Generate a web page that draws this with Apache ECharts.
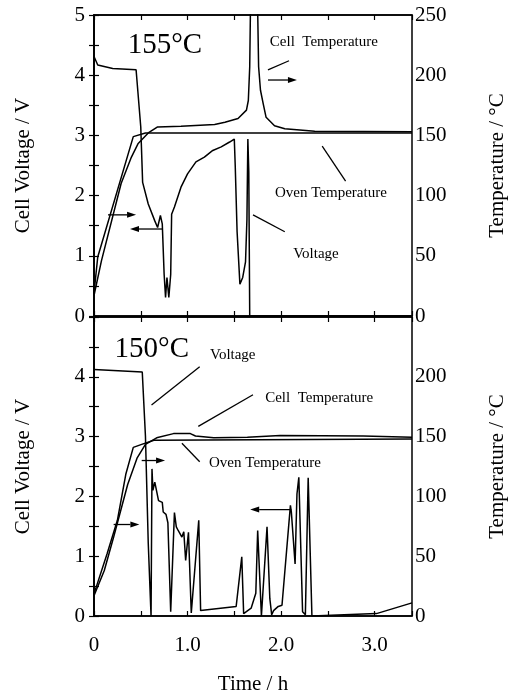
<!DOCTYPE html>
<html>
<head>
<meta charset="utf-8">
<script src="https://cdn.jsdelivr.net/npm/echarts@6/dist/echarts.min.js"></script>
<style>html,body{margin:0;padding:0;background:#fff;}#c{width:508px;height:695px;}</style>
</head>
<body>
<div id="c"></div>
<script>
// ---------- DATA (time in h, voltage in V, temperature in °C) ----------
const topVoltT = [0,0.04,0.20,0.45,0.47,0.50,0.52,0.58,0.65,0.68,0.71,0.73,0.75,0.765,0.78,0.80,0.82,0.83,0.86,0.93,1.00,1.09,1.18,1.27,1.36,1.45,1.50,1.51,1.53,1.56,1.59,1.62,1.635,1.645,1.655,1.665,3.40];
const topVoltV = [4.31,4.17,4.11,4.09,4.07,3.14,2.22,1.86,1.58,1.47,1.67,1.53,0.69,0.31,0.64,0.31,0.69,1.69,1.81,2.14,2.36,2.56,2.64,2.75,2.81,2.89,2.94,2.50,1.40,0.53,0.64,0.90,1.60,2.94,2.40,0,0];
const topCellT = [0,0.08,0.29,0.40,0.47,0.58,0.68,0.93,1.29,1.40,1.54,1.63,1.65,1.665,1.68,1.74,1.76,1.78,1.81,1.84,1.93,2.04,2.36,3.40];
const topCellC = [17,46,110,132,143,152,157,157.5,159,161,164,171,179,207,300,300,207,187.5,176,165,158,155.5,153.5,153];
const topOvenT = [0,0.04,0.42,0.55,3.40];
const topOvenC = [19,49,149,152,152];

const botVoltT = [0,0.516,0.55,0.58,0.61,0.62,0.63,0.65,0.69,0.73,0.74,0.77,0.79,0.82,0.86,0.88,0.90,0.92,0.94,0.96,0.98,1.01,1.04,1.12,1.14,1.52,1.58,1.60,1.68,1.73,1.75,1.79,1.80,1.85,1.88,1.90,1.92,1.97,2.01,2.10,2.11,2.15,2.17,2.19,2.23,2.26,2.29,2.33,3.02,3.40];
const botVoltV = [4.12,4.08,3.01,1.22,0,2.46,2.10,2.24,1.93,1.90,1.74,1.70,1.56,0.07,1.73,1.49,1.43,1.46,1.32,1.41,0.93,1.40,0.05,1.60,0.09,0.16,0.99,0.04,0.13,0.38,1.43,0,0,1.49,0.29,0.02,0.09,0.16,0.18,1.85,1.74,0.87,2.04,2.32,0.07,0.02,2.31,0,0.04,0.22];
const botCellT = [0,0.11,0.21,0.36,0.46,0.55,0.67,0.85,1.03,1.085,1.28,1.64,1.99,2.88,3.40];
const botCellC = [17,38,66,110,132,143.5,149,152.5,152.5,150.5,149,149.5,151,150.5,149.5];
const botOvenT = [0,0.14,0.25,0.34,0.42,0.51,0.64,3.40];
const botOvenC = [18.5,52,80,118.5,141,143.5,147,148];

const xTickLabels = {0:'0',1:'1.0',2:'2.0',3:'3.0'};
const leftName = 'Cell Voltage / V';
const rightName = 'Temperature / °C';
const xName = 'Time / h';

// annotation anchors in data coordinates (time, voltage) of each panel
const texts = [
  {g:0, t:'155°C', at:[0.36,4.49], big:true},
  {g:0, t:'Cell  Temperature', at:[1.88,4.55]},
  {g:0, t:'Oven Temperature', at:[1.935,2.04]},
  {g:0, t:'Voltage', at:[2.13,1.03]},
  {g:1, t:'150°C', at:[0.22,4.46], big:true},
  {g:1, t:'Voltage', at:[1.24,4.36]},
  {g:1, t:'Cell  Temperature', at:[1.83,3.65]},
  {g:1, t:'Oven Temperature', at:[1.23,2.56]}
];
const leaders = [
  {g:0, a:[1.86,4.09], b:[2.085,4.24]},
  {g:0, a:[2.44,2.82], b:[2.69,2.24]},
  {g:0, a:[1.70,1.68], b:[2.04,1.40]},
  {g:1, a:[1.13,4.17], b:[0.615,3.53]},
  {g:1, a:[1.70,3.70], b:[1.115,3.17]},
  {g:1, a:[1.13,2.58], b:[0.94,2.89]}
];
const arrows = [
  {g:0, a:[1.86,3.92], b:[2.17,3.92]},
  {g:0, a:[0.15,1.68], b:[0.45,1.68]},
  {g:0, a:[0.73,1.445], b:[0.385,1.445]},
  {g:1, a:[0.51,2.60], b:[0.76,2.60]},
  {g:1, a:[0.21,1.53], b:[0.485,1.53]},
  {g:1, a:[2.11,1.78], b:[1.67,1.78]}
];

// ---------- CHART ----------
const FONT = '"Liberation Serif", "DejaVu Serif", serif';
const zip = (a,b) => a.map((v,i)=>[v,b[i]]);
const chart = echarts.init(document.getElementById('c'), null, {renderer:'canvas'});

function xAx(grid, pos, labels){
  return {
    type:'value', gridIndex:grid, position:pos, min:0, max:3.4, interval:0.5,
    axisLine:{show:true, onZero:false, lineStyle:{color:'#000', width:1.5}},
    axisTick:{show:true, inside:true, length:5, lineStyle:{color:'#000', width:1.2}},
    splitLine:{show:false},
    axisLabel:{show:labels, color:'#000', fontFamily:FONT, fontSize:21, margin:19,
      formatter:v => (Math.abs(v-Math.round(v))<1e-6 && xTickLabels[Math.round(v)]!==undefined) ? xTickLabels[Math.round(v)] : ''},
    name: labels ? xName : '', nameLocation:'middle', nameGap:58,
    nameTextStyle:{color:'#000', fontFamily:FONT, fontSize:21}
  };
}
function yLeft(grid, hideTop){
  return {
    type:'value', gridIndex:grid, position:'left', min:0, max:5, interval:0.5,
    axisLine:{show:true, lineStyle:{color:'#000', width:1.5}},
    axisTick:{show:true, inside:true, length:5, lineStyle:{color:'#000', width:1.2}},
    splitLine:{show:false},
    axisLabel:{color:'#000', fontFamily:FONT, fontSize:21, margin:9,
      formatter:v => (Math.abs(v-Math.round(v))<1e-6 && !(hideTop && v>4.5)) ? String(Math.round(v)) : ''},
    name:leftName, nameLocation:'middle', nameGap:60, nameRotate:90,
    nameTextStyle:{color:'#000', fontFamily:FONT, fontSize:21}
  };
}
function yRight(grid, hideTop){
  return {
    type:'value', gridIndex:grid, position:'right', min:0, max:250, interval:25,
    axisLine:{show:true, lineStyle:{color:'#000', width:1.5}},
    axisTick:{show:true, inside:true, length:5, lineStyle:{color:'#000', width:1.2}},
    splitLine:{show:false},
    axisLabel:{color:'#000', fontFamily:FONT, fontSize:21, margin:3,
      formatter:v => (v%50===0 && !(hideTop && v===250)) ? String(v) : ''},
    name:rightName, nameLocation:'middle', nameGap:75, nameRotate:90,
    nameTextStyle:{color:'#000', fontFamily:FONT, fontSize:21}
  };
}
function ser(name, xi, yi, data){
  return {name, type:'line', xAxisIndex:xi, yAxisIndex:yi, data, showSymbol:false, symbol:'none',
    clip:true, lineStyle:{color:'#000', width:1.5}, itemStyle:{color:'#000'}, animation:false, z:3};
}

chart.setOption({
  backgroundColor:'#fff',
  animation:false,
  grid:[
    {left:94, top:15, width:318, height:301, show:true, borderColor:'#000', borderWidth:1.5, backgroundColor:'transparent', outerBoundsMode:'none', containLabel:false},
    {left:94, top:317, width:318, height:299, show:true, borderColor:'#000', borderWidth:1.5, backgroundColor:'transparent', outerBoundsMode:'none', containLabel:false}
  ],
  xAxis:[xAx(0,'bottom',false), xAx(0,'top',false), xAx(1,'bottom',true), xAx(1,'top',false)],
  yAxis:[yLeft(0,false), yRight(0,false), yLeft(1,true), yRight(1,true)],
  series:[
    ser('Voltage 155', 0, 0, zip(topVoltT, topVoltV)),
    ser('Cell Temperature 155', 0, 1, zip(topCellT, topCellC)),
    ser('Oven Temperature 155', 0, 1, zip(topOvenT, topOvenC)),
    ser('Voltage 150', 2, 2, zip(botVoltT, botVoltV)),
    ser('Cell Temperature 150', 2, 3, zip(botCellT, botCellC)),
    ser('Oven Temperature 150', 2, 3, zip(botOvenT, botOvenC))
  ]
});

function P(g, p){ return chart.convertToPixel({xAxisIndex:g*2, yAxisIndex:g*2}, p); }
const gfx = [];
texts.forEach(o => {
  const p = P(o.g, o.at);
  gfx.push({type:'text', z:10, style:{text:o.t, x:p[0], y:p[1], fill:'#000',
    font:(o.big ? '29px ' : '15px ') + FONT, align:'left', verticalAlign:'middle'}});
});
leaders.forEach(o => {
  const a = P(o.g, o.a), b = P(o.g, o.b);
  gfx.push({type:'line', z:10, shape:{x1:a[0], y1:a[1], x2:b[0], y2:b[1]}, style:{stroke:'#000', lineWidth:1.3}});
});
arrows.forEach(o => {
  const a = P(o.g, o.a), b = P(o.g, o.b);
  const dx = b[0]-a[0], dy = b[1]-a[1], L = Math.hypot(dx,dy), ux = dx/L, uy = dy/L;
  const hl = 9, hw = 3;
  const bx = b[0]-ux*hl, by = b[1]-uy*hl;
  gfx.push({type:'line', z:10, shape:{x1:a[0], y1:a[1], x2:bx, y2:by}, style:{stroke:'#000', lineWidth:1.3}});
  gfx.push({type:'polygon', z:10, shape:{points:[[b[0],b[1]],[bx-uy*hw, by+ux*hw],[bx+uy*hw, by-ux*hw]]}, style:{fill:'#000'}});
});
chart.setOption({graphic:gfx});
</script>
</body>
</html>
